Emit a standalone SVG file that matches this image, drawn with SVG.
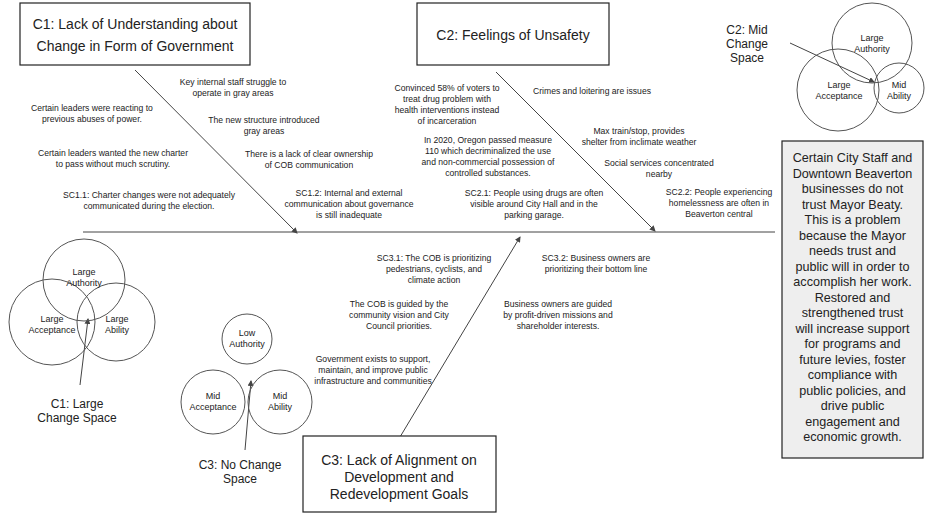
<svg xmlns="http://www.w3.org/2000/svg" width="936" height="526" viewBox="0 0 936 526">
<style>
text{font-family:"Liberation Sans",Arial,sans-serif;fill:#222;text-anchor:middle}
.s{font-size:8.6px}
.c{font-size:9px}
.l{font-size:12px}
.b{font-size:14px}
.m{font-size:12.6px}
.box{fill:#fff;stroke:#222;stroke-width:1.2}
.cir{fill:none;stroke:#555;stroke-width:1}
.ln{stroke:#444;stroke-width:1;fill:none}
</style>
<defs><marker id="a" markerWidth="6" markerHeight="6" refX="5" refY="3" orient="auto"><path d="M0,0L6,3L0,6z" fill="#444"/></marker></defs>
<rect width="936" height="526" fill="#fff"/>
<g id="connectors">
<line class="ln" x1="83" y1="232" x2="775" y2="232"/>
<line class="ln" x1="135" y1="70" x2="297" y2="233" marker-end="url(#a)"/>
<line class="ln" x1="496" y1="72" x2="655" y2="231" marker-end="url(#a)"/>
<line class="ln" x1="400" y1="437" x2="520" y2="237" marker-end="url(#a)"/>
<line class="ln" x1="790" y1="43" x2="874" y2="82" marker-end="url(#a)"/>
<line class="ln" x1="80" y1="385" x2="88" y2="319" marker-end="url(#a)"/>
<line class="ln" x1="245" y1="450" x2="251" y2="381" marker-end="url(#a)"/>
</g>
<g id="c1"><rect class="box" x="20" y="3" width="230" height="62"/><text class="b" x="135" y="29">C1: Lack of Understanding about</text><text class="b" x="135" y="51">Change in Form of Government</text></g>
<g id="c2"><rect class="box" x="417" y="3" width="192" height="62"/><text class="b" x="513" y="40">C2: Feelings of Unsafety</text></g>
<g id="c3"><rect class="box" x="303" y="436" width="193" height="76"/><text class="b" x="399" y="465">C3: Lack of Alignment on</text><text class="b" x="399" y="482">Development and</text><text class="b" x="399" y="499">Redevelopment Goals</text></g>
<g id="problem"><rect x="782" y="141" width="141" height="317" fill="#eee" stroke="#222" stroke-width="1.2"/>
<text class="m" x="852.5" y="162">Certain City Staff and</text><text class="m" x="852.5" y="177.5">Downtown Beaverton</text><text class="m" x="852.5" y="193">businesses do not</text><text class="m" x="852.5" y="208.5">trust Mayor Beaty.</text><text class="m" x="852.5" y="224">This is a problem</text><text class="m" x="852.5" y="239.5">because the Mayor</text><text class="m" x="852.5" y="255">needs trust and</text><text class="m" x="852.5" y="270.5">public will in order to</text><text class="m" x="852.5" y="286">accomplish her work.</text><text class="m" x="852.5" y="301.5">Restored and</text><text class="m" x="852.5" y="317">strengthened trust</text><text class="m" x="852.5" y="332.5">will increase support</text><text class="m" x="852.5" y="348">for programs and</text><text class="m" x="852.5" y="363.5">future levies, foster</text><text class="m" x="852.5" y="379">compliance with</text><text class="m" x="852.5" y="394.5">public policies, and</text><text class="m" x="852.5" y="410">drive public</text><text class="m" x="852.5" y="425.5">engagement and</text><text class="m" x="852.5" y="441">economic growth.</text></g>
<g id="c1-causes">
<text class="s" x="233" y="85">Key internal staff struggle to</text><text class="s" x="233" y="96">operate in gray areas</text>
<text class="s" x="92" y="111">Certain leaders were reacting to</text><text class="s" x="92" y="122">previous abuses of power.</text>
<text class="s" x="264" y="123">The new structure introduced</text><text class="s" x="264" y="134">gray areas</text>
<text class="s" x="113" y="156">Certain leaders wanted the new charter</text><text class="s" x="113" y="167">to pass without much scrutiny.</text>
<text class="s" x="309" y="157">There is a lack of clear ownership</text><text class="s" x="309" y="168">of COB communication</text>
<text class="s" x="149" y="198">SC1.1: Charter changes were not adequately</text><text class="s" x="149" y="209">communicated during the election.</text>
<text class="s" x="349" y="196">SC1.2: Internal and external</text><text class="s" x="349" y="207">communication about governance</text><text class="s" x="349" y="218">is still inadequate</text>
</g>
<g id="c2-causes">
<text class="s" x="447" y="91">Convinced 58% of voters to</text><text class="s" x="447" y="102">treat drug problem with</text><text class="s" x="447" y="113">health interventions instead</text><text class="s" x="447" y="124">of incarceration</text>
<text class="s" x="592" y="94">Crimes and loitering are issues</text>
<text class="s" x="488" y="143">In 2020, Oregon passed measure</text><text class="s" x="488" y="154">110 which decriminalized the use</text><text class="s" x="488" y="165">and non-commercial possession of</text><text class="s" x="488" y="176">controlled substances.</text>
<text class="s" x="639" y="134">Max train/stop, provides</text><text class="s" x="639" y="145">shelter from inclimate weather</text>
<text class="s" x="659" y="166">Social services concentrated</text><text class="s" x="659" y="177">nearby</text>
<text class="s" x="534" y="196">SC2.1: People using drugs are often</text><text class="s" x="534" y="207">visible around City Hall and in the</text><text class="s" x="534" y="218">parking garage.</text>
<text class="s" x="719" y="195">SC2.2: People experiencing</text><text class="s" x="719" y="206">homelessness are often in</text><text class="s" x="719" y="217">Beaverton central</text>
</g>
<g id="c3-causes">
<text class="s" x="434" y="261">SC3.1: The COB is prioritizing</text><text class="s" x="434" y="272">pedestrians, cyclists, and</text><text class="s" x="434" y="283">climate action</text>
<text class="s" x="399" y="307">The COB is guided by the</text><text class="s" x="399" y="318">community vision and City</text><text class="s" x="399" y="329">Council priorities.</text>
<text class="s" x="596" y="261">SC3.2: Business owners are</text><text class="s" x="596" y="272">prioritizing their bottom line</text>
<text class="s" x="558" y="307">Business owners are guided</text><text class="s" x="558" y="318">by profit-driven missions and</text><text class="s" x="558" y="329">shareholder interests.</text>
<text class="s" x="373" y="362">Government exists to support,</text><text class="s" x="373" y="373">maintain, and improve public</text><text class="s" x="373" y="384">infrastructure and communities</text>
</g>
<g id="c1-space">
<circle class="cir" cx="84" cy="280" r="41"/><circle class="cir" cx="52" cy="322" r="43"/><circle class="cir" cx="116" cy="322" r="39"/>
<text class="c" x="84" y="275">Large</text><text class="c" x="84" y="286">Authority</text>
<text class="c" x="52" y="322">Large</text><text class="c" x="52" y="333">Acceptance</text>
<text class="c" x="117" y="322">Large</text><text class="c" x="117" y="333">Ability</text>
<text class="l" x="77" y="408">C1: Large</text><text class="l" x="77" y="422">Change Space</text>
</g>
<g id="c2-space">
<circle class="cir" cx="872" cy="43" r="40"/><circle class="cir" cx="838" cy="90" r="41"/><circle class="cir" cx="899" cy="88" r="25"/>
<text class="c" x="872" y="41">Large</text><text class="c" x="872" y="52">Authority</text>
<text class="c" x="839" y="88">Large</text><text class="c" x="839" y="99">Acceptance</text>
<text class="c" x="899" y="88">Mid</text><text class="c" x="899" y="99">Ability</text>
<text class="l" x="747" y="34">C2: Mid</text><text class="l" x="747" y="48">Change</text><text class="l" x="747" y="62">Space</text>
</g>
<g id="c3-space">
<circle class="cir" cx="247" cy="339" r="25"/><circle class="cir" cx="213" cy="402" r="32"/><circle class="cir" cx="280" cy="402" r="32"/>
<text class="c" x="247" y="336">Low</text><text class="c" x="247" y="347">Authority</text>
<text class="c" x="213" y="399">Mid</text><text class="c" x="213" y="410">Acceptance</text>
<text class="c" x="280" y="399">Mid</text><text class="c" x="280" y="410">Ability</text>
<text class="l" x="240" y="469">C3: No Change</text><text class="l" x="240" y="483">Space</text>
</g>
</svg>
